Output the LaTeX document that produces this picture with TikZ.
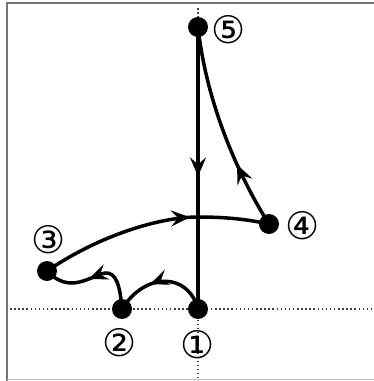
\documentclass[tikz,border=0pt]{standalone}
\usepackage{fontspec}
\newfontfamily\labelfont{DejaVu Sans}
\usetikzlibrary{arrows.meta,decorations.markings}
\tikzset{
  track/.style={line width=3.5pt, line cap=round},
  midarrow/.style={postaction={decorate},decoration={markings,
      mark=at position #1 with {\arrow{Stealth[length=19pt,width=16pt,inset=7pt]}}}},
  guide/.style={line width=1.2pt, black!75, dash pattern=on 1.5pt off 2.6pt},
  dot/.style={circle, fill=black, inner sep=0pt, minimum size=20pt},
  num/.style={font=\labelfont\fontsize{38}{38}\selectfont, inner sep=0pt},
  frame/.style={line width=1.6pt, black!55}
}
\begin{document}
\begin{tikzpicture}[x=1pt,y=-1pt]
  \useasboundingbox (0,0) rectangle (374,381);
  % frame
  \draw[frame] (7,381) -- (7,3) -- (374,3);
  \draw[line width=1pt, black!25] (7,379.5) -- (374,379.5);

  % positions of the five points
  \coordinate (p1) at (198,309);
  \coordinate (p2) at (122,309);
  \coordinate (p3) at (47,271);
  \coordinate (p4) at (269,224);
  \coordinate (p5) at (198,27);
  \coordinate (c) at (198,217);
  \coordinate (k) at (105,273);

  % dotted axes
  \coordinate (hl) at (10,309);
  \coordinate (hr) at (374,309);
  \coordinate (vt) at (198,8);
  \coordinate (vb) at (198,378);
  \draw[guide] (hl) -- (hr);
  \draw[guide] (vt) -- (vb);

  % path segments
  \draw[track, midarrow=0.53] (p5) -- (p1);
  \draw[track, midarrow=0.62] (p1) .. controls (188,272) and (145,272) .. (p2);
  \draw[track, midarrow=0.57] (p2) .. controls (120,285) and (116,272) .. (k)
        .. controls (90,276) and (70,295) .. (p3);
  \draw[track, midarrow=0.66] (p3) .. controls (100,235) and (160,217) .. (c)
        .. controls (230,217) and (250,220) .. (p4);
  \draw[track, midarrow=0.32] (p4) .. controls (236,172) and (206,100) .. (p5);

  % points
  \node[dot] (n1) at (p1) {};
  \node[dot] (n2) at (p2) {};
  \node[dot] (n3) at (p3) {};
  \node[dot] (n4) at (p4) {};
  \node[dot] (n5) at (p5) {};

  % labels
  \node[num] (l1) at (198,345) {①};
  \node[num] (l2) at (120,343) {②};
  \node[num] (l3) at (49,240) {③};
  \node[num] (l4) at (303,226) {④};
  \node[num] (l5) at (229,30) {⑤};
\end{tikzpicture}
\end{document}
